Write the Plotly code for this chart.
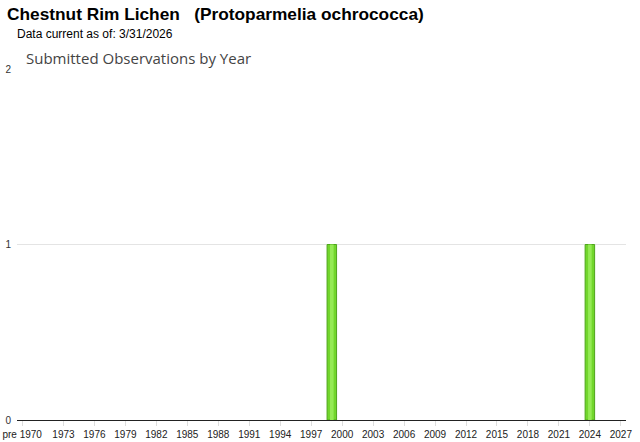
import plotly.graph_objects as go

# Data
years = [1999, 2024]
counts = [1, 1]
tick_years = [1969] + list(range(1973, 2028, 3))
tick_labels = ["pre 1970"] + [str(y) for y in range(1973, 2028, 3)]
title_text = "Chestnut Rim Lichen   (Protoparmelia ochrococca)"
subtitle_text = "Data current as of: 3/31/2026"
chart_title = "Submitted Observations by Year"

PW, PH = 609, 351  # plot area size

fig = go.Figure()
fig.add_trace(go.Bar(
    x=years, y=counts, width=0.92,
    marker=dict(color="#72d62c", line=dict(color="#4ea51c", width=1)),
    hoverinfo="x+y",
))
fig.add_trace(go.Bar(
    x=years, y=counts, width=0.35,
    marker=dict(color="#95ea55", line=dict(width=0)),
    hoverinfo="skip",
))

fig.update_layout(
    width=640, height=442,
    margin=dict(l=17, r=14, t=69, b=22),
    paper_bgcolor="white", plot_bgcolor="white",
    showlegend=False, barmode="overlay",
    font=dict(family="Arial, Liberation Sans, sans-serif", color="#222"),
    xaxis=dict(
        range=[1968.5, 2027.5], automargin=False,
        tickmode="array", tickvals=tick_years, ticktext=tick_labels,
        showgrid=False, zeroline=False,
        showline=True, linecolor="#222", linewidth=1,
        ticks="outside", ticklen=5, tickcolor="#dddddd",
        tickfont=dict(size=10, color="#222"),
    ),
    yaxis=dict(
        range=[0, 2], tickvals=[0, 1, 2], automargin=False,
        showgrid=True, gridcolor="#e4e4e4", gridwidth=1,
        zeroline=False, showline=False,
        tickfont=dict(size=10, color="#333"),
        ticklabelstandoff=5,
    ),
    annotations=[
        dict(text="<b>" + title_text + "</b>", xref="paper", yref="paper",
             x=-12/PW, y=1 + 67/PH, xanchor="left", yanchor="top",
             showarrow=False, font=dict(size=17.3, family="Arial, Liberation Sans", color="#000")),
        dict(text=subtitle_text, xref="paper", yref="paper",
             x=-2/PW, y=1 + 44/PH, xanchor="left", yanchor="top",
             showarrow=False, font=dict(size=12, family="Arial, Liberation Sans", color="#000")),
        dict(text=chart_title, xref="paper", yref="paper",
             x=7/PW, y=1 + 23/PH, xanchor="left", yanchor="top",
             showarrow=False, font=dict(size=15, family="Open Sans, Noto Sans", color="#444")),
    ],
)

fig.write_html(
    "out.html",
    config={"displayModeBar": False},
    post_script="document.body.style.margin='0';document.body.style.overflow='hidden';",
)
